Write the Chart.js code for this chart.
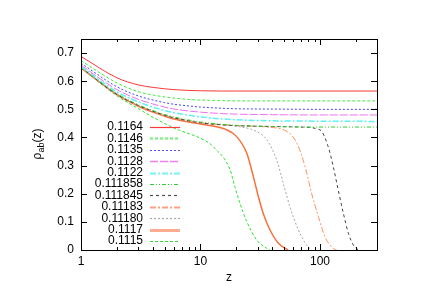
<!DOCTYPE html>
<html>
<head>
<meta charset="utf-8">
<script src="https://cdn.jsdelivr.net/npm/chart.js@4/dist/chart.umd.min.js"></script>
<style>
	html, body { margin: 0; padding: 0; background: #fff; }
</style>
</head>
<body>
<canvas id="c" width="436" height="308"></canvas>
<script>
// flat curves share one z grid
const zFlat = [1, 2, 3, 4, 5, 6, 8, 10, 15, 20, 40, 100, 300];
const rho1164 = [0.688, 0.612, 0.587, 0.578, 0.573, 0.570, 0.567, 0.566, 0.565, 0.565, 0.565, 0.565, 0.565];
const rho1146 = [0.673, 0.594, 0.563, 0.551, 0.544, 0.540, 0.535, 0.533, 0.531, 0.530, 0.530, 0.530, 0.530];
const rho1135 = [0.664, 0.580, 0.548, 0.533, 0.524, 0.518, 0.512, 0.508, 0.504, 0.502, 0.501, 0.500, 0.500];
const rho1128 = [0.657, 0.570, 0.536, 0.519, 0.508, 0.501, 0.494, 0.490, 0.485, 0.483, 0.481, 0.480, 0.480];
const rho1122 = [0.652, 0.562, 0.527, 0.508, 0.496, 0.488, 0.479, 0.473, 0.466, 0.463, 0.459, 0.458, 0.457];
const rho111858 = [0.649, 0.556, 0.517, 0.496, 0.482, 0.473, 0.462, 0.455, 0.447, 0.443, 0.439, 0.437, 0.437];

// curves that fall to zero
const z111845 = [1, 2, 3, 4, 5, 6, 8, 10, 15, 20, 40, 68, 100, 117, 129, 142, 157, 173, 190, 209];
const rho111845 = [0.648, 0.553, 0.514, 0.493, 0.479, 0.470, 0.459, 0.452, 0.445, 0.442, 0.439, 0.437, 0.427, 0.368, 0.297, 0.214, 0.130, 0.059, 0.018, 0];
const z11183 = [1, 2, 3, 4, 5, 6, 8, 10, 15, 20, 36, 53, 64, 75, 85, 97, 110, 129, 138];
const rho11183 = [0.648, 0.553, 0.514, 0.493, 0.479, 0.470, 0.459, 0.452, 0.445, 0.442, 0.437, 0.421, 0.380, 0.297, 0.202, 0.119, 0.047, 0.006, 0];
const z11180 = [1, 2, 3, 4, 5, 6, 8, 10, 19, 29.5, 36, 43.4, 49.3, 56, 66, 77, 85];
const rho11180 = [0.648, 0.553, 0.513, 0.492, 0.478, 0.469, 0.458, 0.451, 0.441, 0.421, 0.391, 0.320, 0.237, 0.154, 0.071, 0.018, 0];
const z1117 = [1, 2, 3, 4, 5, 6, 8, 10, 16.6, 20.1, 24.4, 27.7, 30.5, 33.5, 38.2, 44.8, 54];
const rho1117 = [0.648, 0.552, 0.512, 0.490, 0.476, 0.466, 0.455, 0.448, 0.427, 0.403, 0.344, 0.261, 0.190, 0.130, 0.071, 0.024, 0];
const z1115 = [1, 2, 3, 4, 5, 6.7, 8.2, 9.9, 12, 14, 15.5, 17.7, 19.4, 21.4, 24.4, 29.5, 35.8, 38.2];
const rho1115 = [0.647, 0.548, 0.503, 0.472, 0.450, 0.425, 0.412, 0.398, 0.378, 0.350, 0.330, 0.285, 0.225, 0.166, 0.101, 0.036, 0.006, 0];

const labels = ['0.1164', '0.1146', '0.1135', '0.1128', '0.1122', '0.111858', '0.111845', '0.11183', '0.11180', '0.1117', '0.1115'];
const yTicks = [0, 0.1, 0.2, 0.3, 0.4, 0.5, 0.6, 0.7];
const xTicks = [1, 10, 100];

const pts = (zs, rs) => zs.map((z, i) => ({ x: z, y: rs[i] }));
const series = [
	[zFlat, rho1164], [zFlat, rho1146], [zFlat, rho1135], [zFlat, rho1128],
	[zFlat, rho1122], [zFlat, rho111858], [z111845, rho111845], [z11183, rho11183],
	[z11180, rho11180], [z1117, rho1117], [z1115, rho1115],
];
// key* is the short sample line in the key
const styles = [
	{ color: '#ff3838', dash: [], w: 1, keyW: 1.2, keyColor: '#ff3838' },
	{ color: '#44e844', dash: [3, 2], w: 1, keyW: 2.5, keyColor: '#8cf08c' },
	{ color: '#4444ff', dash: [2, 2], w: 1, keyW: 1.2, keyColor: '#5050ff' },
	{ color: '#f070f0', dash: [8, 2], w: 1, keyW: 1.5, keyColor: '#f080f0' },
	{ color: '#60f0f0', dash: [6, 2, 2, 2], w: 1.5, keyW: 2.5, keyColor: '#90f4f4' },
	{ color: '#30d030', dash: [4, 2, 1, 2, 1, 2], w: 1, keyW: 1.2, keyColor: '#30d030' },
	{ color: '#404040', dash: [3, 3], w: 1, keyW: 1.2, keyColor: '#505050' },
	{ color: '#ff9060', dash: [6, 2, 2, 2], w: 1, keyW: 2, keyColor: '#ffa080' },
	{ color: '#a8a8a8', dash: [2, 2], w: 1, keyW: 1.2, keyColor: '#a8a8a8' },
	{ color: '#f8703c', dash: [], w: 1.5, keyW: 3, keyColor: '#ffac90' },
	{ color: '#30e030', dash: [3, 2], w: 1, keyW: 1.2, keyColor: '#30e030' },
];

const datasets = series.map(([zs, rs], i) => ({
	label: labels[i],
	data: pts(zs, rs),
	borderColor: styles[i].color,
	borderDash: styles[i].dash,
	borderWidth: styles[i].w,
	pointRadius: 0,
	fill: false,
	cubicInterpolationMode: 'monotone',
}));

const FAMILY = '"Liberation Sans", Arial, sans-serif';
const FONT = '12px ' + FAMILY;

// gnuplot-like frame, inward ticks, titles and key
const decor = {
	id: 'decor',
	afterDraw(chart) {
		const ctx = chart.ctx;
		const a = chart.chartArea;
		const xs = chart.scales.x;
		const ys = chart.scales.y;
		ctx.save();
		ctx.strokeStyle = '#000';
		ctx.lineWidth = 1;
		ctx.setLineDash([]);
		ctx.strokeRect(a.left + 0.5, a.top + 0.5, a.right - a.left, a.bottom - a.top);
		ctx.beginPath();
		yTicks.forEach((v) => {
			const y = Math.round(ys.getPixelForValue(v)) + 0.5;
			ctx.moveTo(a.left, y); ctx.lineTo(a.left + 6, y);
			ctx.moveTo(a.right, y); ctx.lineTo(a.right - 6, y);
		});
		for (let d = 1; d <= 100; d *= 10) {
			for (let k = 1; k <= 9; k++) {
				const v = d * k;
				if (v > 300) break;
				const x = Math.round(xs.getPixelForValue(v)) + 0.5;
				const len = k === 1 ? 6 : 3;
				ctx.moveTo(x, a.bottom); ctx.lineTo(x, a.bottom - len);
				ctx.moveTo(x, a.top); ctx.lineTo(x, a.top + len);
			}
		}
		ctx.stroke();

		ctx.fillStyle = '#000';
		ctx.font = FONT;
		ctx.textAlign = 'center';
		ctx.textBaseline = 'middle';
		ctx.fillText('z', (a.left + a.right) / 2, 278);

		// rotated y title with subscript
		ctx.save();
		ctx.translate(37, 144);
		ctx.rotate(-Math.PI / 2);
		ctx.textAlign = 'left';
		ctx.textBaseline = 'alphabetic';
		const subFont = '9px ' + FAMILY;
		const w1 = ctx.measureText('ρ').width;
		ctx.font = subFont;
		const w2 = ctx.measureText('ab').width;
		ctx.font = FONT;
		const w3 = ctx.measureText('(z)').width;
		const x0 = -(w1 + w2 + w3) / 2;
		ctx.fillText('ρ', x0, 4);
		ctx.font = subFont;
		ctx.fillText('ab', x0 + w1, 7);
		ctx.font = FONT;
		ctx.fillText('(z)', x0 + w1 + w2, 4);
		ctx.restore();

		// key
		ctx.textAlign = 'right';
		ctx.textBaseline = 'middle';
		chart.data.datasets.forEach((ds, i) => {
			const y = 127 + i * 11.4;
			ctx.fillStyle = '#000';
			ctx.font = FONT;
			ctx.fillText(ds.label, 143, y);
			ctx.beginPath();
			ctx.strokeStyle = styles[i].keyColor;
			ctx.lineWidth = styles[i].keyW;
			ctx.setLineDash(ds.borderDash);
			ctx.moveTo(150, Math.round(y) + 0.5);
			ctx.lineTo(180, Math.round(y) + 0.5);
			ctx.stroke();
		});
		ctx.restore();
	},
};

new Chart(document.getElementById('c'), {
	type: 'line',
	data: { datasets },
	options: {
		responsive: false,
		animation: false,
		layout: { padding: { left: 0, top: 39, right: 59, bottom: 0 } },
		plugins: { legend: { display: false }, tooltip: { enabled: false } },
		scales: {
			x: {
				type: 'logarithmic',
				min: 1,
				max: 300,
				grid: { display: false, drawTicks: false },
				border: { display: false },
				afterBuildTicks: (s) => { s.ticks = xTicks.map((v) => ({ value: v })); },
				afterFit: (s) => { s.height = 58; },
				ticks: {
					autoSkip: false,
					maxRotation: 0,
					padding: 4,
					color: '#000',
					font: { family: FAMILY, size: 12 },
					callback: (v) => String(v),
				},
			},
			y: {
				type: 'linear',
				min: 0,
				max: 0.75,
				grid: { display: false, drawTicks: false },
				border: { display: false },
				afterBuildTicks: (s) => { s.ticks = yTicks.map((v) => ({ value: v })); },
				afterFit: (s) => { s.width = 81; },
				ticks: {
					padding: 7,
					color: '#000',
					font: { family: FAMILY, size: 12 },
					callback: (v) => String(+v.toFixed(1)),
				},
			},
		},
	},
	plugins: [decor],
});
</script>
</body>
</html>
